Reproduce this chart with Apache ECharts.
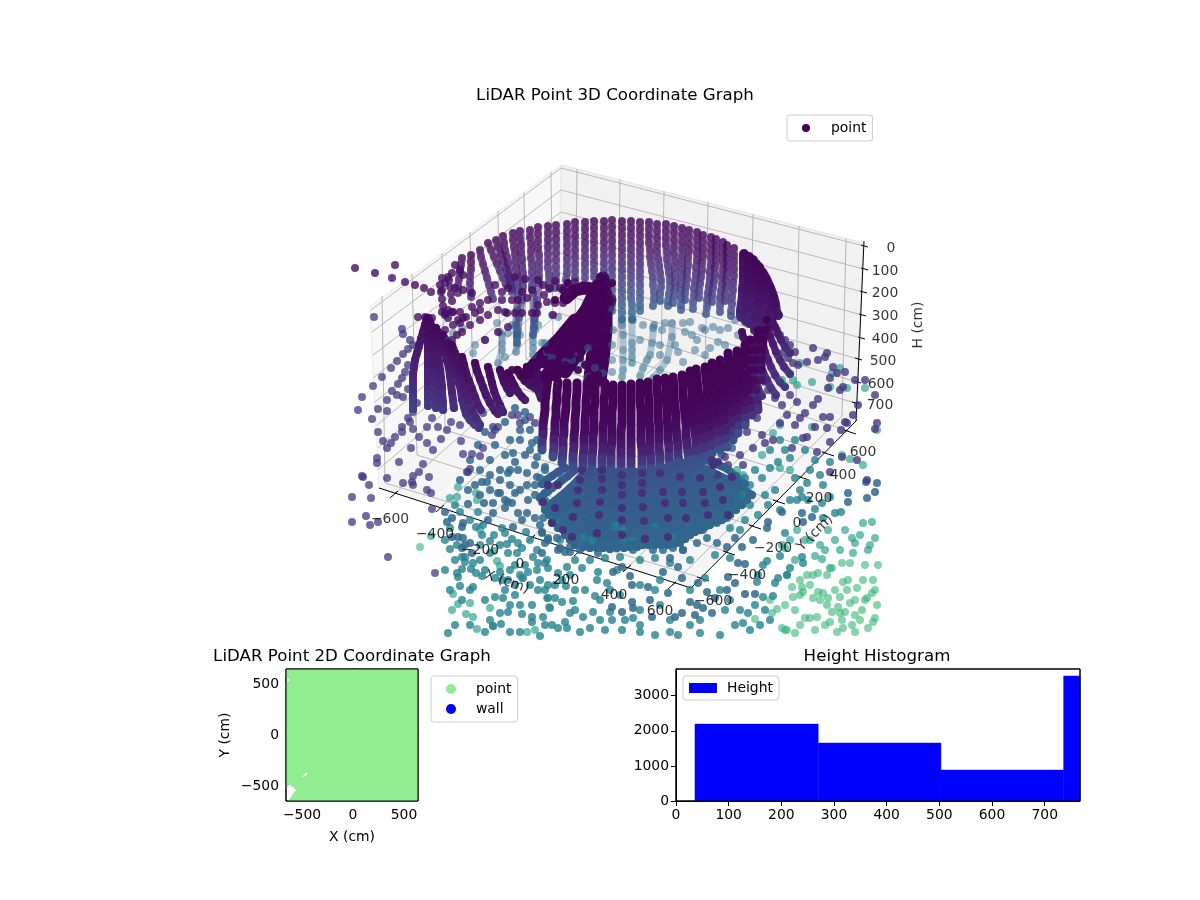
<!DOCTYPE html>
<html><head><meta charset="utf-8">
<style>html,body{margin:0;background:#fff}#c{width:1200px;height:900px}</style>
<script src="https://cdn.jsdelivr.net/npm/echarts@6/dist/echarts.min.js"></script></head>
<body><div id="c"></div>
<script>
// ---------- histogram ----------
const histEdges=[36,270,503,736,767];
const histCounts=[2190,1650,880,3560];
const histFrame=[[0,0],[767,0],[767,3760],[0,3760]];
// ---------- 2D map (cm) ----------
const coverage=[[-657,647],[637,647],[637,-647],[-637,-647],[-608,-608],[-578,-559],[-559,-539],[-598,-500],[-627,-490],[-657,-529],[-657,529],[-627,529],[-627,549],[-657,549]];
const coverageGap=[[-500,-402],[-480,-395],[-470,-375],[-450,-370],[-450,-385],[-470,-402],[-490,-410]];
const mapFrame=[[-657,-647],[637,-647],[637,647],[-657,647]];
// ---------- 3D view plane: frame ----------
const paneLeft=[[561,165],[370,307],[379,488],[559,330]];
const paneRight=[[561,165],[863,243],[857,420],[559,330]];
const paneFloor=[[559,330],[857,420],[691,588],[379,488]];
const xFloorFront=[[394,494],[440,508],[483,522],[531,538],[578,552],[627,568],[672,585]];
const xFloorBack=[[575,335],[618,348],[661,361],[705,374],[750,388],[796,403],[842,416]];
const xPaneTop=[[577,169],[620,179],[664,191],[708,202],[753,214],[799,226],[846,238]];
const yFloorFront=[[702,578],[728,552],[754,526],[778,501],[802,477],[827,453],[849,431]];
const yFloorBack=[[385,483],[417,455],[445,430],[473,405],[500,382],[526,359],[553,335]];
const yPaneTop=[[382,296],[412,274],[442,253],[470,232],[498,211],[524,192],[551,172]];
const hBack=[[561,168],[561,190],[561,212],[560,233],[560,253],[560,273],[559,293],[559,313]];
const hLeft=[[371,310],[372,332],[373,355],[373,378],[375,402],[377,425],[378,448],[378,470]];
const hRight=[[864,246],[864,269],[863,292],[862,315],[861,338],[858,359],[857,382],[855,403]];
const axisSegments=[[379,488,691,588],[691,588,857,420],[864,241,856,421]];
const xTickLabels=[[390,519,'−600'],[435,534,'−400'],[480,550,'−200'],[520,564,'0'],[566,580,'200'],[614,595,'400'],[660,611,'600']];
const yTickLabels=[[713,601,'−600'],[747,575,'−400'],[773,548,'−200'],[797,523,'0'],[819,498,'200'],[843,475,'400'],[863,452,'600']];
const hTickLabels=[[891,248,'0'],[885,271,'100'],[885,293,'200'],[885,316,'300'],[885,339,'400'],[883,361,'500'],[881,384,'600'],[880,405,'700']];
// ---------- 3D view plane: points (u,v pairs), shade per point along each strand ----------
const backShades=[.02,.03,.04,.05,.07,.09,.11,.13,.16,.19,.22,.25,.28,.31,.34,.36];
const backStrands=[
[462,258,461,265,460,272,459,279,458,286,458,293],
[471,255,471,262,471,269,470,276,470,283,470,290,471,297],
[480,250,481,257,483,264,485,271,487,278,489,285,491,292,493,299],
[488,243,491,250,494,257,497,264,500,271,503,278,506,285],
[496,240,498,247,501,254,503,261,506,268,508,275,510,282,512,289],
[503,236,504,243,505,250,507,257,508,264,509,271,510,278,511,285,512,292],
[513,233,513,240,514,247,515,254,515,261,516,268,517,275,517,282,518,289,518,296,517,310,516,325,517,343],
[520,231,520,238,521,245,521,252,522,259,522,266,523,273,523,280,523,287,522,300,519,318,517,335],
[530,230,530,237,531,244,531,251,531,258,532,265,532,272,532,279,532,286,533,293,534,320,533,335],
[538,227,538,234,538,241,538,248,539,255,539,262,539,269,539,276,539,283,537,300,534,328],
[548,226,548,233,548,240,548,247,548,254,548,261,548,268,549,275,549,282,549,289],
[556,225,556,232,556,239,556,246,556,253,556,260,556,267,556,274,556,281,555,288],
[567,224,567,231,567,238,567,245,567,252,567,259,567,266,567,273,566,280],
[575,222,575,229,575,236,575,243,575,250,575,257,575,264,575,271,575,278],
[585,222,585,229,585,236,585,243,585,250,585,257,585,264,585,271,585,278],
[594,221,594,228,594,235,594,242,594,249,594,256,594,263,594,270,594,277],
[604,221,604,228,604,235,604,242,604,249,604,256,604,263,604,270,604,277],
[612,220,612,227,612,234,612,241,612,248,612,255,612,262,612,269,612,276,612,283,612,290,612,297,612,304,612,311],
[622,221,622,228,622,235,622,242,622,249,622,256,622,263,622,270,622,277,622,284,622,291,622,298,622,305,622,312,622,319],
[631,221,631,228,631,235,631,242,631,249,631,256,631,263,631,270,631,277,631,284,631,291,631,298,632,305,632,312,632,319],
[640,222,640,229,640,236,640,243,640,250,640,257,640,264,640,271,640,278,640,285,640,292,640,299,640,306,640,311],
[649,222,649,229,649,236,649,243,650,250,650,257,651,264,652,271,653,278,653,285,654,292,654,299,653,306],
[657,224,657,231,657,238,657,245,657,252,658,259,659,266,660,273,661,280,661,287,660,294,660,301],
[666,224,666,231,666,238,666,245,667,252,667,259,668,266,669,273,670,280,670,287,669,294,668,301,668,306],
[674,226,674,233,674,240,674,247,674,254,675,261,675,268,675,275,675,282,675,289,674,296,673,303],
[682,228,682,235,682,242,682,249,682,256,682,263,682,270,682,277,681,284,681,291,681,298,681,305,681,310],
[689,230,689,237,689,244,689,251,688,258,688,265,687,272,687,279,686,286,685,293,685,300],
[697,232,697,239,697,246,697,253,697,260,696,267,696,274,695,281,694,288,694,295,693,302,693,309],
[703,235,703,242,703,249,703,256,702,263,702,270,701,277,700,284,699,291,699,298],
[711,237,711,244,711,251,711,258,711,265,710,272,710,279,709,286,708,293,707,300,707,307,706,314],
[716,239,716,246,716,253,716,260,715,267,715,274,714,281,713,288,712,295,712,302],
[723,242,723,249,723,256,723,263,723,270,722,277,722,284,721,291,720,298,720,305,720,312],
[727,245,727,252,727,259,727,266,727,273,726,280,726,287,725,294,725,301],
[734,248,734,255,734,262,734,269,734,276,733,283,733,290,732,297,732,304,731,311,731,316]
];
const rightWallTop=[
[744,254,744,261,744,268,744,275,744,282,743,289,743,296,742,303,741,310,741,317],
[749,257,749,265,749,273,749,281,748,289,748,297,747,305,746,313,746,321],
[753,260,754,267,754,274,754,281,754,288,753,295,752,302,751,309,750,316,749,323],
[759,267,761,274,763,281,764,288,765,295,765,302,764,309,763,316,762,323],
[756,264,758,272,759,280,759,288,759,296,758,304,757,312,756,320,755,330],
[762,272,766,279,769,286,771,293,772,300,772,307,771,314,770,321],
[765,280,770,288,773,296,775,304,776,312,778,315]
];
const backLowerStrands=[
[622,320,623,335,623,350,623,360,623,370,622,377],
[632,320,632,343,632,350,632,357,632,363],
[654,325,652,343,650,355,647,360,643,368,640,376],
[672,323,672,337,667,360,660,370,653,378],
[517,338,517,345,516,352],
[533,335,533,342,533,348,533,355],
[502,335,502,343,502,350,498,363]
];
const backLower=[613,330,633,320,622,325,643,325,653,328,662,330,665,323,683,323,685,332,692,335,697,340,705,330,702,328,713,327,718,342,678,352,683,362,705,355,710,348,
518,330,520,335,505,357,508,333,512,325,500,332,497,323,535,330,545,343,547,352,552,358,538,325,552,315,558,317,542,343,565,362,572,360,578,353,588,348,582,363,595,368,603,373,612,372,588,377,485,340,475,345,473,353,458,357,462,328,453,333,448,340,
735,320,728,328,738,335,745,322,690,322,695,350,675,345,660,345,640,340,612,345,612,360,660,355,720,330,725,345];
const ringDots=[355,268,375,273,395,265,392,278,405,282,415,285,424,288,431,292,455,265,460,270,463,275,455,288,463,290,472,293,480,303,488,300,495,285,502,292,508,288,515,277,525,279,522,292,532,290,538,280,543,285,544,295,550,288,555,281,560,288,565,287,575,282,583,285,568,293,512,300,518,300,527,298,502,300,498,310,507,313,522,313,532,313,538,305,547,302,555,303,563,303,553,315,537,313,488,315,480,310,472,307,463,318,458,320,425,317,418,317,432,318,452,312,445,315,442,290,442,278,445,283,448,277,452,273,
442,312,448,310,453,312,460,312,466,317,475,313,453,325,460,323,445,330,452,340,457,335,462,332,470,325,480,320,485,340,498,332,508,327,505,312,515,313,
440,285,441,292,442,299,443,306,445,313,448,318,449,280,450,287,451,294,452,301];
const leftOutliers=[374,317,402,329,403,334,410,340,413,345,408,349,403,354,397,361,408,365,405,372,391,368,402,378,382,377,398,384,373,386,392,391,397,395,362,397,387,400,403,397,408,389,378,409,387,411,358,410,372,419,408,418,410,422,402,427,413,412,417,403,427,427,432,418,438,427,447,430,460,425,451,422,413,429,378,432,383,441,395,437,402,432,419,437,391,443,387,448,411,448,427,443,441,439,433,450,461,441,377,458,377,463,399,462,423,464,463,454,472,454,480,456,362,476,387,478,413,476,419,472,429,477,467,472,470,469,483,448,492,435,493,427,483,413,498,427,512,415,518,415,520,423,535,423,530,417,363,477,369,485,371,498,352,497,366,516,370,525,378,522,352,522,412,482,413,485,403,483,427,490,431,493,432,509,388,557,435,573];
const floorBlue=[445,512,447,522,452,518,463,523,462,527,452,537,458,537,463,538,465,545,470,543,462,548,472,553,468,504,484,503,493,503,508,502,515,493,498,493,505,500,512,503,518,513,527,513,528,500,545,500,555,508,527,485,535,485,547,485,562,478,575,485,535,518,522,520,513,527,540,525,552,523,565,523,542,532,548,540,558,550,570,552,577,538,572,512,585,513,488,520,493,513,500,493,505,508,487,482,482,482,468,472,508,473,527,473,537,477,545,470,525,420,530,430,537,440,520,440,513,453,525,455,535,465,510,470,518,470,532,443,537,457,545,467,
613,572,630,576,632,585,622,567,648,587,632,602,650,600,652,617,633,608,622,612,612,607,668,593,682,578,678,567,663,572,683,550,670,558,653,550,698,583,690,602,697,605,703,608,712,613,695,615,682,613,675,617,727,590,707,592,715,598,745,594,755,594,728,577,735,583,738,563,745,564,742,547,735,538,753,540,768,522,767,528,782,512,802,513,803,522,812,517,848,493,866,482,877,483,875,492,867,498,848,502,
495,445,505,455,500,470,490,460,510,440,520,430,530,450,515,462,540,478,548,492,535,495,520,490,510,485,500,480,490,490,480,495,475,485,468,490,480,470,490,475,460,480,470,460,478,445,485,432,495,430,505,422,515,408,525,412,500,410,
547,485,542,502,545,507,548,512,555,515,560,523,552,522,543,518,542,533,548,538,557,538,560,548,565,552,570,547,580,550,590,548,598,553,610,547,620,543,633,550,640,540,653,543,663,550,673,548,683,550,697,543,707,538,717,543,727,547,690,527,703,530,717,523,727,518,733,510,737,497,727,495,713,503,722,483,732,477,707,475,713,465,722,455,732,448,697,473,683,463,545,543,542,553];
const floorTeal=[450,549,462,557,465,557,465,562,473,563,471,569,476,573,462,569,457,573,458,577,460,586,473,587,482,576,505,533,507,544,508,553,517,553,512,539,518,543,522,548,533,557,538,563,545,563,548,568,537,570,528,572,558,573,567,567,582,568,598,572,617,570,523,578,508,580,495,578,502,580,505,590,538,590,495,597,503,598,510,605,500,613,508,612,532,605,522,614,532,617,543,617,550,608,555,598,548,598,562,602,573,601,570,613,583,617,593,612,595,596,597,580,607,583,590,628,567,628,558,628,545,625,552,625,532,622,501,624,493,626,540,636,562,580,566,586,448,633,400,637,
633,618,622,630,612,620,655,635,678,635,700,633,720,635,735,625,743,623,748,613,725,610,763,597,773,596,775,583,778,578,787,575,790,568,757,582,758,575,763,565,767,561,780,556,802,557,803,563,785,533,823,518,822,503,823,485,807,483,802,497,797,500,808,500,815,509,830,497,835,513,841,512,
470,520,476,527,482,535,490,541,455,560,445,570,450,590,462,600,470,625,485,632,515,565,525,565,530,585,515,595,520,605,540,580,548,585,570,575,575,590,585,590,600,600,610,590,620,595,640,585,655,590,660,605,670,620,640,625,625,620,605,630,580,632,640,610,660,580,690,590,705,578,720,590,730,600,740,610,755,605,765,610,770,620,750,630,760,625,700,620,690,625,670,632,640,632,610,612,600,620,575,610,565,622,520,632,510,632,470,590,485,600,490,620,455,625,520,575,510,570,500,545,480,545,490,553,545,590,555,585,
745,478,755,470,762,478,770,468,778,462,785,450,790,458,775,490,765,495,750,505,758,515,745,520,740,530,730,528,768,505,780,510,790,500,800,490,795,478,810,470,820,475,830,462,815,460,805,450,795,440,780,440,770,450,750,485,742,495,
615,530,623,530,623,540,615,523,632,537,655,527,672,537,583,537,592,540,560,540,455,505,460,512,450,528,445,540,457,545,478,512,483,525,494,535,502,528,526,532,530,540,537,550,547,560,575,560,590,560,605,558,620,557,640,560,655,558,670,563,690,560,715,555,730,558,480,560,485,570,500,572,515,585];
const floorSea=[458,487,476,493,450,498,477,500,457,497,431,536,480,530,494,551,497,561,500,566,522,578,547,598,549,607,490,608,527,632,535,630,477,629,493,626,470,603,453,594,458,604,452,610,466,614,473,617,
822,559,830,568,787,575,853,553,852,538,855,543,863,523,872,522,870,545,875,538,797,385,812,382,800,363,782,380,793,380,832,373,830,387,847,388,840,368,865,388,762,455,773,433,780,468,790,470,737,470,743,475,728,445,720,453,877,430,863,465,842,455,850,459,812,427,780,425,
810,540,820,545,828,530,835,540,845,530,860,535,868,550,840,550,815,556,825,550,805,540,797,530,790,540,785,548,795,560,782,545];
const floorGreen=[420,547,832,568,807,575,813,575,818,573,827,575,800,580,792,587,802,587,810,585,803,592,800,595,793,597,813,598,818,592,823,593,827,605,838,607,850,603,840,597,843,582,848,580,857,588,847,590,863,580,873,580,875,590,867,598,872,593,850,563,842,563,865,565,878,565,862,610,855,615,840,613,817,617,810,618,805,618,777,609,772,613,755,619,785,630,795,633,787,630,830,622,852,625,843,628,855,632,875,618,873,622,837,632,782,628,
835,590,828,598,820,600,832,612,842,620,860,620,868,628,877,605,865,600,855,600,845,612,825,625,815,630,800,625,795,610,785,605,770,600];
const leftFan=[
[427,318,425,325,423,332,421,339,419,346,417,353,415,360,414,367,413,374,413,381,413,388,413,395,413,402,413,409],
[428,318,428,326,428,334,428,342,428,350,428,358,428,366,428,374,428,382,428,390,428,398,428,406],
[429,320,431,328,432,336,433,344,434,352,434,360,435,368,435,376,436,384,436,392,436,400,436,408],
[430,322,433,330,435,338,437,346,438,354,439,362,440,370,441,378,442,386,442,394,443,402,443,410],
[436,328,440,336,443,344,445,352,447,360,449,368,450,376,451,384,452,392,453,400,454,408],
[443,335,447,343,450,351,453,359,455,367,457,375,459,383,461,391,462,399,464,407,466,414,470,420,475,425],
[452,345,455,353,458,361,460,369,462,377,464,385,466,393,468,401,472,410,476,418,480,425,479,428],
[462,357,464,365,466,373,469,381,472,389,475,397,478,405,481,410],
[475,363,477,371,480,379,483,387,486,395,490,403,495,411,498,414],
[488,367,490,375,492,383,494,391,497,399,500,405,503,412],
[500,370,502,376,504,382,507,388,510,393],
[508,373,511,379,514,385,518,392,522,397,525,400],
[517,370,521,376,525,381,530,385,535,388],
[527,367,530,375,534,382,538,390,541,398],
[535,365,537,373,539,381,542,390]
];
const leftFanShades=[.02,.03,.04,.05,.06,.07,.08,.09,.1,.12,.14,.16,.18,.2];
const rightFan=[
[770,313,772,320,775,327,778,334,781,340,785,347,790,353],
[767,320,768,328,770,336,773,344,776,352,780,360,784,367,790,374],
[762,328,762,336,763,344,765,352,768,360,771,367,775,375,780,382,785,387],
[758,332,757,340,757,348,758,356,760,364,763,372,767,380,771,388,776,395],
[755,340,753,348,752,356,752,364,753,372,755,380,758,388,762,396],
[742,332,743,337,746,342,750,348,750,358,748,368]
];
const rightOutliers=[777,330,780,335,785,340,790,345,795,352,783,353,788,358,793,363,798,365,807,362,813,348,818,360,825,357,827,353,833,367,837,373,845,372,855,380,865,380,875,395,858,405,843,387,840,390,830,378,828,388,818,399,813,405,805,413,797,402,790,395,782,405,775,398,768,390,765,382,760,375,757,367,753,397,756,408,757,418,762,435,765,443,745,423,747,432,735,435,753,448,740,455,725,457,717,475,728,465,743,465,773,440,792,448,780,423,795,425,815,427,827,428,823,417,830,417,800,418,787,415,817,452,807,437,803,438,830,442,847,423,841,430,853,415,845,422,877,423,875,429,842,457,857,460,830,472,867,480];
const fanStrands=[
[590,472,584,482,577,492,568,503,560,513,553,520],
[593,472,588,483,581,493,573,505,565,518,558,528],
[596,472,592,483,585,494,578,506,571,522,565,535],
[599,472,595,484,590,496,583,510,577,526,570,540],
[601,472,598,485,594,498,589,512,582,530,575,545],
[603,472,601,486,598,500,594,515,589,532,583,547],
[605,472,604,488,602,503,599,518,595,534,590,548],
[608,472,607,488,605,503,603,518,600,534,597,548],
[610,472,609,488,608,503,607,518,605,534,603,548],
[613,472,613,488,612,503,612,518,611,534,610,549],
[615,472,616,488,616,503,616,518,617,534,617,548],
[618,472,619,488,620,503,620,518,622,534,624,548],
[620,472,621,488,623,503,624,518,627,534,630,547],
[622,472,625,488,627,503,629,518,633,533,637,547],
[625,472,628,488,630,503,634,518,638,532,643,545],
[628,472,631,488,634,503,639,518,644,532,649,545],
[630,472,634,488,638,503,644,518,650,532,655,545],
[633,472,637,487,642,502,649,516,655,531,661,545],
[636,472,640,486,647,500,654,514,661,530,668,545],
[639,472,644,485,651,499,659,513,666,529,674,544],
[642,472,648,484,655,497,664,512,672,528,680,543],
[645,472,651,483,660,496,668,510,677,525,685,539],
[648,472,655,482,664,495,673,508,682,522,690,535],
[651,471,659,481,668,492,678,505,687,519,695,532],
[654,470,663,480,673,490,683,502,692,516,700,530],
[657,470,666,479,676,489,687,500,696,514,705,527],
[660,470,670,478,680,488,691,499,700,512,710,525],
[663,469,673,477,684,486,695,497,705,509,716,522],
[666,468,677,476,688,484,700,494,711,506,722,520],
[669,467,680,474,691,482,703,492,715,504,726,517],
[672,466,684,473,695,481,707,490,719,503,730,515],
[676,465,688,471,700,479,712,487,725,499,736,510],
[680,464,692,470,705,478,717,485,730,495,742,505],
[684,463,696,468,708,475,721,482,735,491,747,500],
[688,462,700,466,712,472,726,479,739,487,752,495],
[585,472,578,480,570,488,561,496,552,503,545,510],
[587,472,581,481,574,490,565,500,556,508,549,515],
[695,458,706,460,716,464,726,468,736,476,745,484],
[575,470,568,476,560,482,552,488,545,493,540,498],
[565,468,558,472,552,476,546,480,542,484]
];
const fanShades=[.25,.27,.29,.3,.31,.33];
const frontWall=[
[548,377,547,386,546,394,545,402,545,410,544,418,543,426,543,434,542,442,542,450],
[558,382,557,391,557,399,556,407,556,415,555,423,555,431,554,439,554,447,553,457],
[567,383,567,392,566,400,566,408,565,416,564,424,564,432,563,440,563,450,562,463],
[577,383,577,392,576,401,576,410,575,419,575,428,574,437,574,446,573,456,573,467],
[587,383,587,392,586,401,586,410,585,419,585,428,584,438,584,448,583,458,583,470],
[595,383,595,392,595,401,594,410,594,419,594,428,593,438,593,448,592,458,592,470],
[605,383,605,392,604,401,604,410,604,419,603,428,603,438,603,448,602,458,602,470],
[613,385,613,394,613,403,612,412,612,421,612,430,612,440,611,450,611,460,611,470],
[622,385,622,394,622,403,622,412,622,422,621,432,621,442,621,452,621,462,621,473],
[631,384,631,393,631,402,631,411,631,421,631,431,631,441,631,451,631,462,631,473],
[640,383,640,392,640,401,641,411,641,421,641,431,641,441,642,451,642,461,642,470],
[648,382,648,391,649,400,649,410,649,420,650,430,650,440,650,450,651,460,651,469],
[657,379,657,389,658,398,658,408,658,418,659,428,659,438,659,448,660,458,660,467],
[665,378,666,388,666,398,667,408,667,418,668,428,668,438,669,448,669,457,670,465],
[673,377,674,387,674,397,675,407,676,417,676,427,677,437,678,447,678,455,679,462],
[682,375,683,385,683,395,684,405,685,415,686,425,686,435,687,445,688,453,689,460],
[690,371,691,381,692,391,692,401,693,411,694,421,695,431,696,441,696,451,697,460],
[696,369,697,379,698,389,699,399,700,409,701,419,702,429,703,439,704,448,705,457],
[705,367,706,377,707,387,707,397,708,407,709,417,710,427,711,436,711,445,712,453],
[712,363,713,373,714,383,715,393,716,403,717,413,718,423,719,432,719,441,720,450],
[720,360,721,370,722,380,723,390,724,400,725,410,725,420,726,430,726,439,727,447],
[728,353,729,363,729,373,730,383,731,393,731,403,732,413,732,423,733,432,733,440],
[737,351,737,360,737,370,738,380,738,390,738,400,738,410,738,418,738,426,738,433],
[745,345,745,354,745,364,745,374,745,384,745,394,745,403,745,411,745,418,745,425],
[750,340,750,350,750,360,749,370,749,380,749,390,750,400,751,408,752,415],
[758,330,758,340,757,350,756,360,755,370,755,380,756,390,757,400,758,410],
[767,320,765,330,763,340,762,350,761,360,761,370,762,380]
];
const frontShades=[.005,.01,.01,.015,.02,.03,.05,.09,.15,.24];
const towerStrands=[
[603,278,606,300,606,330,603,360,600,380],
[598,285,586,310,570,332,548,350,530,372],
[600,298,582,325,562,345,544,362],
[594,318,578,340,558,362,545,377],
[566,298,575,290,585,288,596,290],
[604,290,596,310,590,330,580,350,565,372],
[610,300,600,330,592,360,590,378],
[585,335,570,355,555,375],
[575,320,560,338,540,358,525,375]
];
const fanOverlay=[582,470,580,480,578,490,577,503,573,517,572,537,602,470,602,479,602,490,600,502,599,515,597,533,622,475,622,485,622,495,622,508,622,520,622,535,642,473,642,483,642,493,643,507,644,521,645,539,660,473,663,492,665,503,668,518,668,537,680,477,682,492,683,503,686,518,700,478,703,492,705,503,708,515,712,460,713,465,720,487,723,500,728,515,718,462,732,477,555,508,552,523,558,485,548,485,543,502,563,530];
const tower=[600,277,605,280,608,285,608,293,555,300,610,302,608,315,604,330,598,345,612,283,590,355,598,375,593,380,585,365,578,370,568,283,563,290,572,350,580,358,512,370,518,370,527,367,535,365,543,362,552,363,528,375,552,367,565,365];

// ---------- helpers ----------
const palette=['#440154','#482475','#414487','#355f8d','#2a788e','#21918c','#22a884','#44bf70','#7ad151','#bddf26','#fde725'];
const flat=a=>{const r=[];for(let i=0;i<a.length;i+=2)r.push([a[i],a[i+1]]);return r;};
const oneShade=(a,s)=>flat(a).map(p=>[p[0],p[1],s]);
const shadeAt=(sh,i)=>sh[Math.min(i,sh.length-1)];
const strandPts=(list,shades)=>list.flatMap(l=>flat(l).map((p,i)=>[p[0],p[1],shadeAt(shades,i)]));
// a strand of overlapping points is also drawn as one continuous stroke through the same read points
const strandStroke=(list,shades,width,opacity)=>({type:'custom',xAxisIndex:0,yAxisIndex:0,silent:true,clip:true,
 data:list.map((_,i)=>i),
 renderItem:(p,api)=>{const pts=flat(list[p.dataIndex]),c=pts.map(q=>api.coord(q)),a=c[0],b=c[c.length-1];
  const n=Math.max(pts.length-1,1);
  const stops=pts.map((q,i)=>({offset:i/n,color:echarts.color.lerp(shadeAt(shades,i),palette)}));
  return {type:'polyline',shape:{points:c},style:{fill:null,lineWidth:width,lineCap:'round',lineJoin:'round',opacity,
   stroke:new echarts.graphic.LinearGradient(a[0],a[1],b[0]===a[0]&&b[1]===a[1]?b[0]+1:b[0],b[1],stops,true)}};}});
const dots=(data,op)=>({type:'scatter',name:'point',xAxisIndex:0,yAxisIndex:0,silent:true,clip:true,symbolSize:8,data,
 itemStyle:{opacity:op},__points:true});
const seg=(a,b)=>a.map((p,i)=>[p[0],p[1],b[i][0],b[i][1]]);
const gridSegments=[...seg(xFloorFront,xFloorBack),...seg(xPaneTop,xFloorBack),...seg(yFloorFront,yFloorBack),...seg(yPaneTop,yFloorBack),...seg(hBack,hLeft),...seg(hBack,hRight)];
const tickSegments=[
 ...xFloorFront.map(p=>[p[0]-4,p[1]+4,p[0]+4,p[1]-3]),
 ...yFloorFront.map(p=>[p[0]-5,p[1]-1,p[0]+7,p[1]+3]),
 ...hRight.map(p=>[p[0]-3,p[1]-1,p[0]+4,p[1]+1])];
const polygon=(poly,style,xi,yi)=>({type:'custom',xAxisIndex:xi,yAxisIndex:yi,silent:true,data:[0],
 renderItem:(p,api)=>({type:'polygon',shape:{points:poly.map(q=>api.coord(q))},style})});
const segments=(rows,stroke,w)=>({type:'custom',xAxisIndex:0,yAxisIndex:0,silent:true,data:rows,
 renderItem:(p,api)=>{const a=api.coord([api.value(0),api.value(1)]),b=api.coord([api.value(2),api.value(3)]);
  return {type:'line',shape:{x1:a[0],y1:a[1],x2:b[0],y2:b[1]},style:{stroke,lineWidth:w}};}});
const FONT='DejaVu Sans',BLK='#000';
const textLayer=(rows,rotate)=>({type:'scatter',xAxisIndex:0,yAxisIndex:0,symbolSize:0,silent:true,clip:false,data:rows,
 label:{show:true,position:'inside',rotate,formatter:p=>p.value[2],color:BLK,fontFamily:FONT,fontSize:13.9}});
const mx=v=>String(v).replace('-','−');
const legendBase={selectedMode:false,backgroundColor:'#fff',borderColor:'#cccccc',borderWidth:1,borderRadius:3,
 textStyle:{color:BLK,fontFamily:FONT,fontSize:13.9}};
const plainAxis=(extra)=>Object.assign({type:'value',axisLine:{show:true,lineStyle:{color:BLK,width:1}},splitLine:{show:false},
 nameTextStyle:{color:BLK,fontFamily:FONT,fontSize:13.9},nameLocation:'middle'},extra);
const ticks=(vals)=>({axisTick:{show:true,length:5,lineStyle:{color:BLK},customValues:vals},
 axisLabel:{color:BLK,fontFamily:FONT,fontSize:13.9,margin:7,customValues:vals,formatter:mx}});
const titleStyle={color:BLK,fontFamily:FONT,fontWeight:'normal',fontSize:16.67};

const xyTicks=[-500,0,500];
const option={animation:false,backgroundColor:'#fff',
 title:[
  {text:'LiDAR Point 3D Coordinate Graph',left:610,top:82,textAlign:'center',textStyle:titleStyle},
  {text:'LiDAR Point 2D Coordinate Graph',left:347,top:643,textAlign:'center',textStyle:titleStyle},
  {text:'Height Histogram',left:872,top:643,textAlign:'center',textStyle:titleStyle}
 ],
 grid:[
  {left:351,top:110,width:528,height:526},
  {left:286,top:669,width:132,height:132,show:true,borderColor:BLK,borderWidth:1,backgroundColor:'#fff'},
  {left:676,top:669,width:404,height:132,show:true,borderColor:BLK,borderWidth:1,backgroundColor:'#fff'}
 ],
 xAxis:[
  {type:'value',gridIndex:0,min:351,max:879,show:false},
  plainAxis({gridIndex:1,min:-657,max:637,name:'X (cm)',nameGap:29,...ticks(xyTicks)}),
  plainAxis({gridIndex:2,min:0,max:767,...ticks([0,100,200,300,400,500,600,700])})
 ],
 yAxis:[
  {type:'value',gridIndex:0,min:110,max:636,inverse:true,show:false},
  plainAxis({gridIndex:1,min:-647,max:647,name:'Y (cm)',nameGap:54,...ticks(xyTicks)}),
  plainAxis({gridIndex:2,min:0,max:3760,...ticks([0,1000,2000,3000])})
 ],
 legend:[
  {...legendBase,left:787,top:115,padding:[6,6,6,15],itemWidth:40,itemHeight:8,icon:'circle',
   data:[{name:'point',itemStyle:{color:'#440154',opacity:1}}]},
  {...legendBase,left:431,top:676,orient:'vertical',padding:[6,6,6,15],itemGap:6,itemWidth:40,itemHeight:10,icon:'circle',
   data:[{name:'point',itemStyle:{color:'#90ee90',opacity:1}},{name:'wall',itemStyle:{color:'#0000ff',opacity:1}}]},
  {...legendBase,left:683,top:676,padding:[5,6,5,6],itemWidth:28,itemHeight:10,icon:'rect',
   data:[{name:'Height',itemStyle:{color:'#0000ff',opacity:1}}],textStyle:{...legendBase.textStyle,padding:[0,0,0,5]}}
 ],
 visualMap:{show:false,type:'continuous',min:0,max:1,dimension:2,seriesIndex:[],inRange:{color:palette}},
 series:[]
};
const S=option.series;
S.push(polygon(paneLeft,{fill:'#f8f8f8',stroke:'#eeeeee',lineWidth:1.5},0,0));
S.push(polygon(paneRight,{fill:'#f1f1f1',stroke:'#e8e8e8',lineWidth:1.5},0,0));
S.push(polygon(paneFloor,{fill:'#f5f5f5'},0,0));
S.push(segments(gridSegments,'#b8b8b8',1));
S.push(segments(axisSegments,BLK,1));
S.push(segments(tickSegments,BLK,1));
S.push(textLayer(xTickLabels,0),textLayer(yTickLabels,0),textLayer(hTickLabels,0));
S.push(textLayer([[507,582,'X (cm)']],-19),textLayer([[815,533,'Y (cm)']],45),textLayer([[918,325,'H (cm)']],90));
const wall=(list,shades,w,lineOp,dotOp)=>{S.push(strandStroke(list,shades,w,lineOp));S.push(dots(strandPts(list,shades),dotOp));};
wall(backStrands,backShades,7.5,.6,.55);
wall(backLowerStrands,[.3,.32,.34,.36,.38,.4],7,.35,.4);
S.push(dots(oneShade(backLower,.33),.5));
S.push(dots(oneShade(ringDots,.04),.8));
S.push(dots(oneShade(floorSea,.55),.65));
S.push(dots(oneShade(floorGreen,.66),.6));
S.push(dots(oneShade(floorTeal,.44),.8));
S.push(dots(oneShade(floorBlue,.34),.85));
S.push(dots(oneShade(leftOutliers,.17),.75));
S.push(dots(oneShade(rightOutliers,.16),.8));
wall(rightFan,[.02,.03,.04,.06,.08,.1,.12,.14,.16],7.5,.9,.85);
wall(leftFan,leftFanShades,8,.95,.9);
wall(fanStrands,fanShades,8,1,1);
wall(rightWallTop,[.02,.03,.03,.04,.05,.06,.07,.08,.09,.1],10,.97,.95);
wall(frontWall,frontShades,9,1,1);
S.push(dots(oneShade(fanOverlay,.13),.95));
wall(towerStrands,[.005],13,1,1);
S.push(dots(oneShade(tower,.01),.95));
option.visualMap.seriesIndex=S.map((s,i)=>s.__points?i:-1).filter(i=>i>=0);
S.forEach(s=>delete s.__points);
S.push(polygon(coverage,{fill:'#90ee90'},1,1));
S.push(polygon(coverageGap,{fill:'#ffffff'},1,1));
S.push(polygon(mapFrame,{fill:null,stroke:BLK,lineWidth:1},1,1));
S.push({type:'scatter',name:'wall',xAxisIndex:1,yAxisIndex:1,data:[],itemStyle:{color:'#0000ff'}});
S.push({type:'custom',name:'Height',xAxisIndex:2,yAxisIndex:2,silent:true,itemStyle:{color:'#0000ff'},
 data:histCounts.map((c,i)=>[histEdges[i],histEdges[i+1],c]),
 renderItem:(p,api)=>{const a=api.coord([api.value(0),api.value(2)]),b=api.coord([api.value(1),0]);
  return {type:'rect',shape:{x:a[0],y:a[1],width:b[0]-a[0],height:b[1]-a[1]},style:{fill:'#0000ff',stroke:'#0000ff',lineWidth:.5}};}});
S.push(polygon(histFrame,{fill:null,stroke:BLK,lineWidth:1},2,2));
echarts.init(document.getElementById('c'),null,{renderer:'canvas'}).setOption(option);
</script></body></html>
